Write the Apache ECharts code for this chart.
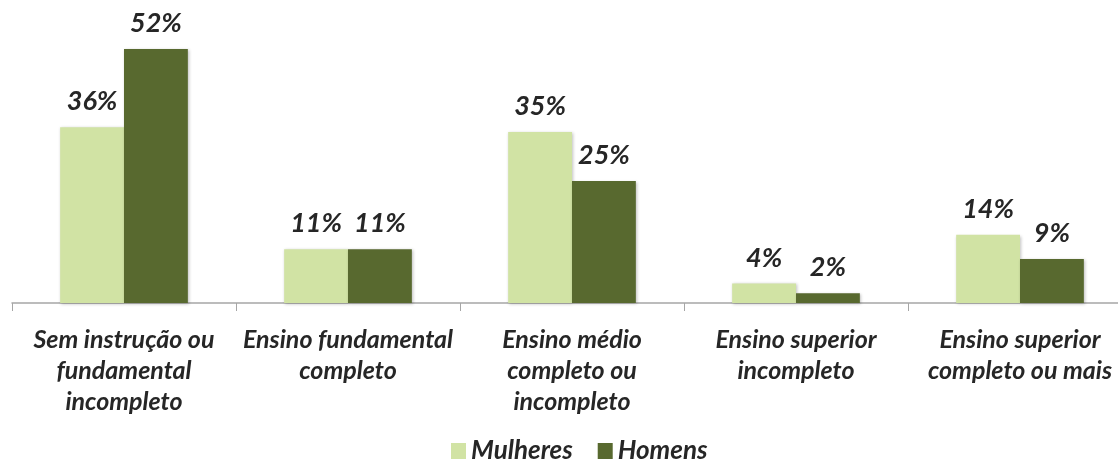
<!DOCTYPE html>
<html><head><meta charset="utf-8">
<script src="https://cdn.jsdelivr.net/npm/echarts@6/dist/echarts.min.js"></script>
<style>html,body{margin:0;padding:0;background:#fff}#c{width:1118px;height:461px}</style>
</head><body><div id="c"></div>
<script>
const categories = ['Sem instrução ou\nfundamental\nincompleto','Ensino fundamental\ncompleto','Ensino médio\ncompleto ou\nincompleto','Ensino superior\nincompleto','Ensino superior\ncompleto ou mais'];
const mulheres = [36, 11, 35, 4, 14];
const homens = [52, 11, 25, 2, 9];
const FONT = 'Lato';
const chart = echarts.init(document.getElementById('c'));
const lbl = {show:true, position:'top', distance:12, formatter:'{c}%', fontFamily:FONT, fontStyle:'italic', fontWeight:'bold', fontSize:27, color:'#262626'};
chart.setOption({
  animation:false,
  grid:{left:12, width:1120, top:10, height:293, containLabel:false, outerBoundsMode:'none'},
  legend:{top:433, left:446, itemWidth:15, itemHeight:16, itemGap:25, icon:'rect',
    textStyle:{fontFamily:FONT, fontStyle:'italic', fontWeight:'bold', fontSize:26, color:'#262626'},
    data:['Mulheres','Homens']},
  xAxis:{type:'category', data:categories,
    axisLine:{lineStyle:{color:'#a6a6a6', width:1.5}},
    axisTick:{show:true, length:8, lineStyle:{color:'#a6a6a6'}},
    axisLabel:{interval:0, margin:21, fontFamily:FONT, fontStyle:'italic', fontWeight:'bold', fontSize:25, lineHeight:31, color:'#262626'}},
  yAxis:{type:'value', min:0, max:60, show:false, splitLine:{show:false}},
  series:[
    {name:'Mulheres', type:'bar', data:mulheres, barGap:'0%', barCategoryGap:'43%',
      itemStyle:{color:'#d1e3a4', shadowColor:'rgba(0,0,0,0.25)', shadowBlur:3, shadowOffsetX:1, shadowOffsetY:1}, label:lbl},
    {name:'Homens', type:'bar', data:homens,
      itemStyle:{color:'#58692f', shadowColor:'rgba(0,0,0,0.25)', shadowBlur:3, shadowOffsetX:1, shadowOffsetY:1}, label:lbl}
  ]
});
</script></body></html>
